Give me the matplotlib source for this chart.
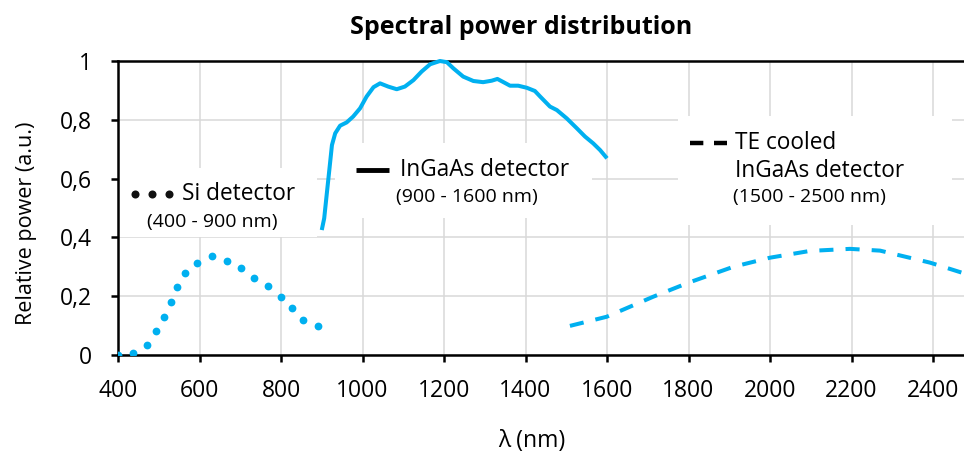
import numpy as np
import matplotlib
matplotlib.use('Agg')
import matplotlib.pyplot as plt
from matplotlib.patches import Rectangle

plt.rcParams['font.family'] = ['Open Sans', 'DejaVu Sans']

# Si detector (400 - 900 nm), round-dot curve
si_nm = [401, 437, 472, 493, 512, 530, 545, 564, 594, 631, 667, 703, 734, 769, 799, 826, 854, 890]
si_pow = [0.0, 0.008, 0.035, 0.083, 0.129, 0.179, 0.230, 0.279, 0.313, 0.338,
          0.319, 0.296, 0.263, 0.236, 0.198, 0.159, 0.120, 0.097]

# InGaAs detector (900 - 1600 nm), solid curve
ingaas_nm = [900, 906, 912, 919, 925, 933, 945, 961, 977, 994, 1010, 1027, 1043, 1063,
             1084, 1104, 1125, 1145, 1166, 1190, 1207, 1223, 1247, 1272, 1296, 1317,
             1331, 1346, 1362, 1382, 1403, 1423, 1436, 1460, 1477, 1501, 1526, 1546,
             1566, 1583, 1600]
ingaas_pow = [0.425, 0.465, 0.544, 0.635, 0.714, 0.754, 0.780, 0.791, 0.811, 0.839,
              0.879, 0.911, 0.924, 0.913, 0.904, 0.913, 0.935, 0.964, 0.989, 1.0,
              0.996, 0.975, 0.947, 0.932, 0.928, 0.933, 0.939, 0.928, 0.916, 0.916,
              0.909, 0.898, 0.879, 0.845, 0.833, 0.805, 0.771, 0.743, 0.720, 0.697, 0.669]

# TE cooled InGaAs detector (1500 - 2500 nm), dashed curve
te_nm = [1509, 1599, 1713, 1800, 1910, 2000, 2098, 2196, 2270, 2393, 2480]
te_pow = [0.099, 0.130, 0.198, 0.246, 0.300, 0.331, 0.354, 0.361, 0.355, 0.314, 0.276]

x_ticks = [400, 600, 800, 1000, 1200, 1400, 1600, 1800, 2000, 2200, 2400]
y_ticks = [0, 0.2, 0.4, 0.6, 0.8, 1]
y_labels = ['0', '0,2', '0,4', '0,6', '0,8', '1']

blue = '#00B0F0'

fig = plt.figure(figsize=(9.64, 4.53), dpi=100)
ax = fig.add_axes([118 / 964, 98 / 453, 846 / 964, 294 / 453])

ax.plot(si_nm, si_pow, 'o', color=blue, ms=5.6, mew=0, zorder=3)
ax.plot(ingaas_nm, ingaas_pow, color=blue, lw=2.9, solid_capstyle='butt',
        solid_joinstyle='round', zorder=3, clip_on=False)
ax.plot(te_nm, te_pow, color=blue, lw=2.9, linestyle=(0, (3.5, 3.0)), zorder=3)

ax.set_xlim(400, 2476)
ax.set_ylim(0, 1)
ax.set_xticks(x_ticks)
ax.set_yticks(y_ticks)
ax.set_yticklabels(y_labels)
ax.tick_params(axis='both', labelsize=16.5, length=5, width=1.8, color='black')
ax.tick_params(axis='y', pad=14)
ax.tick_params(axis='x', pad=12)

ax.grid(True, color='#D9D9D9', lw=1.1)
ax.set_axisbelow(True)
for side in ['left', 'bottom', 'top']:
    ax.spines[side].set_linewidth(1.8)
    ax.spines[side].set_color('black')
ax.spines['right'].set_visible(False)

# white label boxes (hide the grid behind the annotations)
boxes = [(400, 0.401, 488, 0.235), (932, 0.466, 631, 0.255), (1774, 0.442, 673, 0.371)]
for bx, by, bw, bh in boxes:
    ax.add_patch(Rectangle((bx, by), bw, bh, facecolor='white', edgecolor='none', zorder=1))

# Si label
ax.plot([442, 483, 525], [0.548] * 3, 'o', color='#111111', ms=5.8, mew=0, zorder=4)
ax.text(557, 0.548, 'Si detector', fontsize=16.3, va='center', ha='left', zorder=4)
ax.text(631, 0.452, '(400 - 900 nm)', fontsize=14, va='center', ha='center', zorder=4)

# InGaAs label
ax.plot([984, 1064], [0.629, 0.629], color='black', lw=3.5, solid_capstyle='butt', zorder=4)
ax.text(1092, 0.629, 'InGaAs detector', fontsize=16.3, va='center', ha='left', zorder=4)
ax.text(1256, 0.537, '(900 - 1600 nm)', fontsize=14, va='center', ha='center', zorder=4)

# TE cooled label
ax.plot([1804, 1895], [0.721, 0.721], color='black', lw=3.2,
        linestyle=(0, (3.0, 2.4)), zorder=4)
ax.text(1914, 0.721, 'TE cooled', fontsize=16.3, va='center', ha='left', zorder=4)
ax.text(1914, 0.626, 'InGaAs detector', fontsize=16.3, va='center', ha='left', zorder=4)
ax.text(1910, 0.537, '(1500 - 2500 nm)', fontsize=14, va='center', ha='left', zorder=4)

fig.text(521 / 964, 1 - 28 / 453, 'Spectral power distribution', fontsize=18,
         fontweight='bold', ha='center', va='center')
fig.text(27 / 964, 1 - 223 / 453, 'Relative power (a.u.)', fontsize=15.5,
         rotation=90, ha='center', va='center')
fig.text(532 / 964, 1 - 441 / 453, 'λ (nm)', fontsize=16.5, ha='center', va='center')

fig.savefig('out.png', dpi=100)
